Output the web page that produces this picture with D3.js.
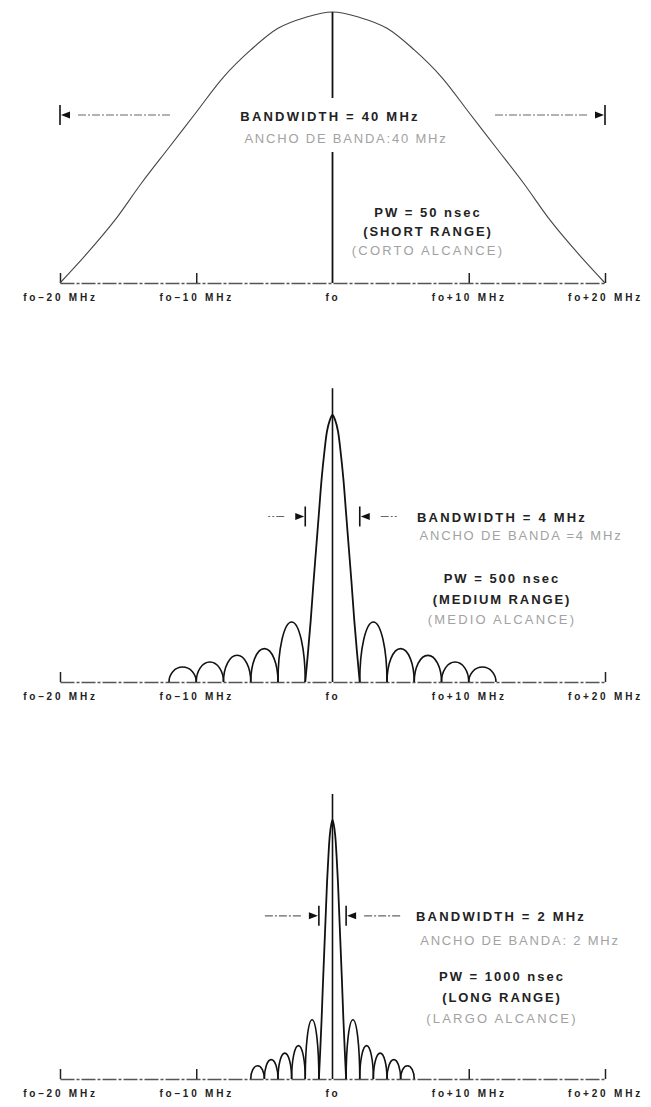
<!DOCTYPE html>
<html>
<head>
<meta charset="utf-8">
<script src="https://cdn.jsdelivr.net/npm/d3@7"></script>
<style>
    body { margin: 0; background: #fff; }
    svg text { font-family: "Liberation Sans", Arial, sans-serif; }
</style>
</head>
<body>
<script>
// frequency axis (MHz offset from fo)
const tickValues = [-20, -10, 0, 10, 20]
const tickLabels = ['fo\u201320 MHz', 'fo\u201310 MHz', 'fo', 'fo+10 MHz', 'fo+20 MHz']
const axisTicks = [[-20, -10, 10, 20], [-20, 20], [-20, -10, 10, 20]]

// one panel per pulse width
const bandwidths = [40, 4, 2]
const bwLabels = ['BANDWIDTH = 40 MHz', 'BANDWIDTH = 4 MHz', 'BANDWIDTH = 2 MHz']
const bwLabelsEs = ['ANCHO DE BANDA:40 MHz', 'ANCHO DE BANDA =4 MHz', 'ANCHO DE BANDA: 2 MHz']
const pwLabels = ['PW = 50 nsec', 'PW = 500 nsec', 'PW = 1000 nsec']
const rangeLabels = ['(SHORT RANGE)', '(MEDIUM RANGE)', '(LONG RANGE)']
const rangeLabelsEs = ['(CORTO ALCANCE)', '(MEDIO ALCANCE)', '(LARGO ALCANCE)']

// main lobe profile: position from centre (fraction of half width) -> relative amplitude
const lobeU = [0, 0.1, 0.2, 0.3, 0.4, 0.5, 0.6, 0.7, 0.8, 0.9, 1.0]
const lobeAmp = [1.0, 0.98, 0.94, 0.86, 0.76, 0.63, 0.50, 0.37, 0.23, 0.11, 0]

// side lobes: nulls (MHz, mirrored both sides) and peak heights between them
const sideNulls = [[], [2, 4, 6, 8, 10, 12], [1, 2, 3, 4, 5, 6]]
const sidePeaks = [[], [0.225, 0.125, 0.10, 0.075, 0.056], [0.229, 0.129, 0.10, 0.075, 0.051]]

const width = 651
const height = 1107

const layout = [
    { base: 283, h: 271, lineTop: 1.0, gap: [98, 152], markerAmp: 0.62, inside: true, dashGap: 18, dashLen: 94,
      bwX: 330, esX: 346, pwX: 428, ty: [-162, -140, -66, -47, -28] },
    { base: 682, h: 267, lineTop: 1.10, gap: null, markerAmp: 0.62, inside: false, dashGap: 21, dashLen: 16,
      bwX: 502, esX: 521, pwX: 502, ty: [-160, -142, -99, -78, -58] },
    { base: 1079, h: 259, lineTop: 1.10, gap: null, markerAmp: 0.63, inside: false, dashGap: 18, dashLen: 36,
      bwX: 501, esX: 520, pwX: 502, ty: [-158, -134, -98, -77, -56] }
]

const svg = d3.select('body').append('svg')
    .attr('width', width)
    .attr('height', height)

const x = d3.scaleLinear()
    .domain([-20, 20])
    .range([60, 605])

layout.forEach((p, i) => {
    const g = svg.append('g')
    const y = d3.scaleLinear()
        .domain([0, 1])
        .range([p.base, p.base - p.h])

    // baseline + small upward ticks
    const tickAxis = g.append('g')
        .attr('transform', `translate(0,${p.base})`)
        .call(d3.axisBottom(x).tickValues(axisTicks[i]).tickSize(-10).tickSizeOuter(0).tickFormat(''))
    tickAxis.select('.domain')
        .attr('stroke', '#555')
        .attr('stroke-width', 1.3)
        .attr('stroke-dasharray', '14,2,3,2')
    tickAxis.selectAll('.tick line')
        .attr('stroke', '#222')
        .attr('stroke-width', 1.5)

    const labelAxis = g.append('g')
        .attr('transform', `translate(0,${p.base})`)
        .attr('font-size', 14)
        .attr('font-family', '"Liberation Sans", Arial, sans-serif')
        .attr('font-weight', 'bold')
        .call(d3.axisBottom(x).tickValues(tickValues).tickFormat((d, k) => tickLabels[k]).tickSize(0).tickPadding(11))
    labelAxis.select('.domain').remove()
    labelAxis.selectAll('text')
        .attr('fill', '#222')
        .style('letter-spacing', '2.8px')

    // main lobe
    const half = bandwidths[i] / 2
    const pts = lobeU.slice(1).reverse().map((u, k) => [-u * half, lobeAmp[lobeU.length - 1 - k]])
        .concat(lobeU.map((u, k) => [u * half, lobeAmp[k]]))
    g.append('path')
        .datum(pts)
        .attr('fill', 'none')
        .attr('stroke', i === 0 ? '#444' : '#111')
        .attr('stroke-width', i === 0 ? 1.1 : 1.8)
        .attr('d', d3.line().x(d => x(d[0])).y(d => y(d[1])).curve(d3.curveCatmullRom.alpha(0.5)))

    // side lobes as arches on both sides
    sidePeaks[i].forEach((pk, k) => {
        const a = sideNulls[i][k]
        const b = sideNulls[i][k + 1]
        ;[1, -1].forEach(s => {
            const x0 = x(s * a)
            const x1 = x(s * b)
            const rx = Math.abs(x1 - x0) / 2
            const ry = y(0) - y(pk)
            const xl = Math.min(x0, x1)
            const xr = Math.max(x0, x1)
            g.append('path')
                .attr('fill', 'none')
                .attr('stroke', '#111')
                .attr('stroke-width', 1.6)
                .attr('d', `M${xl},${y(0)} A${rx},${ry} 0 0 1 ${xr},${y(0)}`)
        })
    })

    // centre line
    if (p.gap) {
        g.append('line')
            .attr('x1', x(0)).attr('x2', x(0))
            .attr('y1', y(p.lineTop)).attr('y2', p.gap[0])
            .attr('stroke', '#111').attr('stroke-width', 1.8)
        g.append('line')
            .attr('x1', x(0)).attr('x2', x(0))
            .attr('y1', p.gap[1]).attr('y2', y(0))
            .attr('stroke', '#111').attr('stroke-width', 1.8)
    } else {
        g.append('line')
            .attr('x1', x(0)).attr('x2', x(0))
            .attr('y1', y(p.lineTop)).attr('y2', y(0))
            .attr('stroke', '#111').attr('stroke-width', 1.6)
    }

    // bandwidth markers
    const my = y(p.markerAmp)
    ;[-1, 1].forEach(s => {
        const xb = x(s * half)
        const dashDir = p.inside ? -s : s
        g.append('line')
            .attr('x1', xb).attr('x2', xb)
            .attr('y1', my - 10).attr('y2', my + 10)
            .attr('stroke', '#111').attr('stroke-width', 1.6)
        // arrow head sits on the dash side and points to the bar
        const tip = xb + dashDir * 1
        const back = xb + dashDir * 10
        g.append('path')
            .attr('d', `M${tip},${my} L${back},${my - 3.5} L${back},${my + 3.5} Z`)
            .attr('fill', '#111')
        g.append('line')
            .attr('x1', xb + dashDir * p.dashGap)
            .attr('x2', xb + dashDir * (p.dashGap + p.dashLen))
            .attr('y1', my).attr('y2', my)
            .attr('stroke', '#666').attr('stroke-width', 1.1)
            .attr('stroke-dasharray', '8,2,2,2')
    })

    // annotations
    const texts = [
        { t: bwLabels[i], x: p.bwX, fill: '#222', w: 'bold', ls: 2.2 },
        { t: bwLabelsEs[i], x: p.esX, fill: '#a2a2a2', w: 'normal', ls: 1.8 },
        { t: pwLabels[i], x: p.pwX, fill: '#222', w: 'bold', ls: 2.0 },
        { t: rangeLabels[i], x: p.pwX, fill: '#222', w: 'bold', ls: 1.9 },
        { t: rangeLabelsEs[i], x: p.pwX, fill: '#a2a2a2', w: 'normal', ls: 2.2 }
    ]
    g.selectAll('text.note')
        .data(texts)
        .enter()
        .append('text')
        .attr('class', 'note')
        .text(d => d.t)
        .attr('x', d => d.x)
        .attr('y', (d, k) => p.base + p.ty[k])
        .attr('text-anchor', 'middle')
        .attr('font-size', 13)
        .attr('font-weight', d => d.w)
        .attr('fill', d => d.fill)
        .style('letter-spacing', d => d.ls + 'px')
})
</script>
</body>
</html>
